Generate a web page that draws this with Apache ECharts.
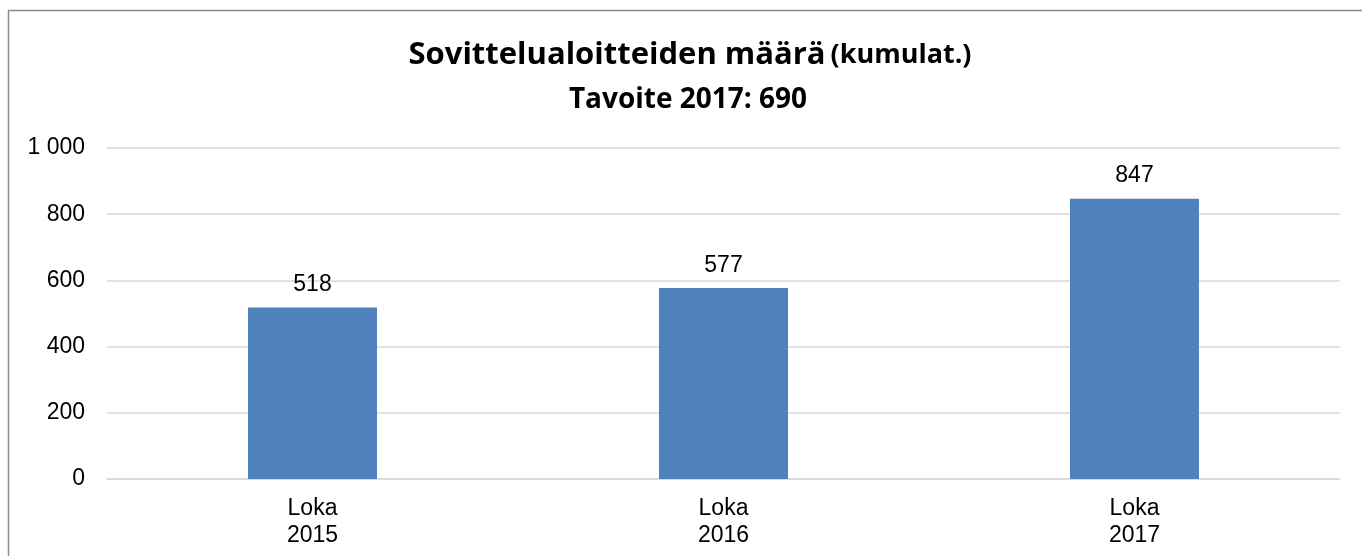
<!DOCTYPE html>
<html>
<head>
<meta charset="utf-8">
<script src="https://cdn.jsdelivr.net/npm/echarts@6/dist/echarts.min.js"></script>
<style>
  html, body { margin: 0; padding: 0; background: #fff; }
  #chart { width: 1362px; height: 556px; }
</style>
</head>
<body>
<div id="chart"></div>
<script>
// Cumulative count of mediation initiatives, October of each year
const categories = ['Loka\n2015', 'Loka\n2016', 'Loka\n2017'];
const values = [518, 577, 847];
const yTicks = { min: 0, max: 1000, interval: 200 };

const chart = echarts.init(document.getElementById('chart'), null, { renderer: 'canvas' });

const fmtThousands = v => String(v).replace(/\B(?=(\d{3})+(?!\d))/g, ' ');

const titleFont = { fontFamily: 'Open Sans', fontWeight: 'bold', color: '#000' };

chart.setOption({
  animation: false,
  backgroundColor: '#ffffff',
  graphic: [{
    type: 'rect',
    shape: { x: 8.5, y: 10.5, width: 1400, height: 600 },
    style: { fill: 'none', stroke: '#8c8c8c', lineWidth: 1.5 },
    silent: true
  }],
  title: [{
    left: 690,
    top: 33,
    textAlign: 'center',
    padding: 0,
    text: '{a|Sovittelualoitteiden määrä} {b|(kumulat.)}',
    textStyle: {
      rich: {
        a: Object.assign({ fontSize: 31, lineHeight: 45 }, titleFont),
        b: Object.assign({ fontSize: 27, lineHeight: 45 }, titleFont)
      }
    }
  }, {
    left: 688,
    top: 78,
    textAlign: 'center',
    padding: 0,
    text: 'Tavoite 2017: 690',
    textStyle: Object.assign({ fontSize: 28, lineHeight: 45 }, titleFont)
  }],
  grid: { left: 107, right: 22, top: 148, bottom: 77 },
  xAxis: {
    type: 'category',
    data: categories,
    axisLine: { show: true, lineStyle: { color: '#d9d9d9', width: 1.5 } },
    axisTick: { show: false },
    axisLabel: {
      fontFamily: 'Liberation Sans', fontSize: 23, color: '#000',
      lineHeight: 27, margin: 16
    }
  },
  yAxis: {
    type: 'value',
    min: yTicks.min, max: yTicks.max, interval: yTicks.interval,
    axisLine: { show: false },
    axisTick: { show: false },
    splitLine: { lineStyle: { color: '#d9d9d9', width: 1.5 } },
    axisLabel: {
      fontFamily: 'Liberation Sans', fontSize: 23, color: '#000', margin: 22,
      formatter: fmtThousands
    }
  },
  series: [{
    type: 'bar',
    data: values,
    barWidth: 129,
    itemStyle: { color: '#4f81bd' },
    label: {
      show: true, position: 'top', distance: 11,
      fontFamily: 'Liberation Sans', fontSize: 23, color: '#000'
    }
  }]
});
</script>
</body>
</html>
